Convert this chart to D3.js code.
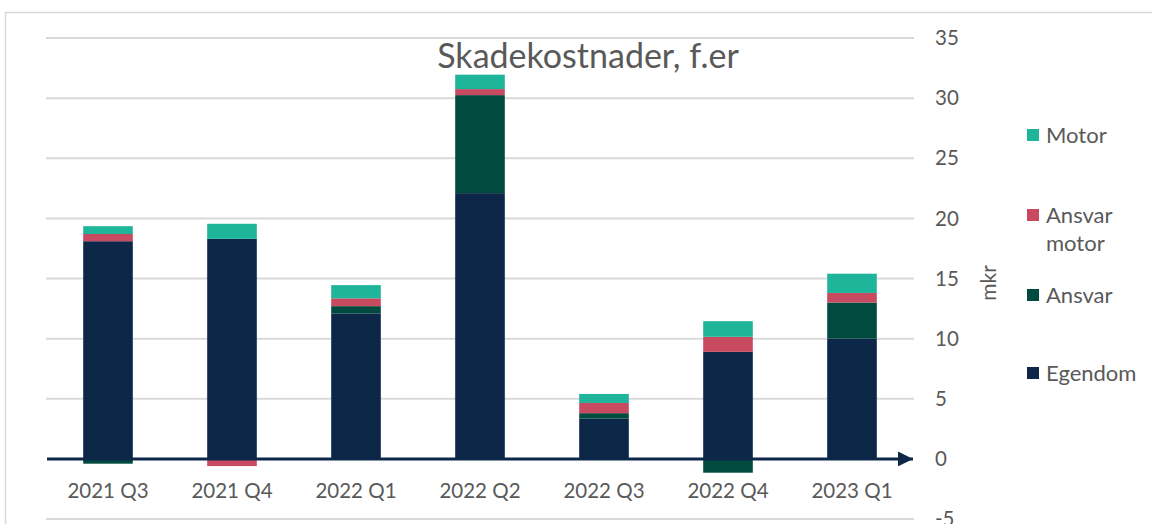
<!DOCTYPE html>
<html>
<head>
<meta charset="utf-8">
<script src="https://cdn.jsdelivr.net/npm/d3@7"></script>
<style>
body { margin: 0; background: #fff; }
text { font-family: Lato, "Open Sans", sans-serif; fill: #595959; }
</style>
</head>
<body>
<svg id="svg1" width="1152" height="524"></svg>
<script>
var quarters = ["2021 Q3","2021 Q4","2022 Q1","2022 Q2","2022 Q3","2022 Q4","2023 Q1"];
var egendom = [18.1, 18.3, 12.1, 22.1, 3.35, 8.9, 10.0];
var ansvar = [-0.4, 0, 0.6, 8.15, 0.45, -1.15, 3.0];
var ansvarMotor = [0.6, -0.6, 0.65, 0.5, 0.85, 1.25, 0.8];
var motor = [0.65, 1.25, 1.1, 1.2, 0.75, 1.3, 1.6];
var yTicks = [-5, 0, 5, 10, 15, 20, 25, 30, 35];
var series = ["Egendom","Ansvar","Ansvar motor","Motor"];
var colors = ["#0c2748","#004a3f","#c84a60","#1fb59a"];

var rows = quarters.map(function(q, i) {
    return {q: q, "Egendom": egendom[i], "Ansvar": ansvar[i], "Ansvar motor": ansvarMotor[i], "Motor": motor[i]};
});

var svg = d3.select('#svg1');
var x = d3.scaleBand().domain(quarters).range([46, 914]).paddingInner(0.6).paddingOuter(0.3);
var y = d3.scaleLinear().domain([-5, 35]).range([519, 38]);
var color = d3.scaleOrdinal().domain(series).range(colors);

// frame
svg.append("path")
    .attr("d", "M5.5,524 V12.5 H1152")
    .style("fill","none").style("stroke","#d9d9d9").style("stroke-width","1.5px");

// grid
svg.append("g").selectAll("line")
    .data(yTicks.filter(function(t){ return t !== 0; }))
    .enter().append("line")
    .attr("x1", 46).attr("x2", 914)
    .attr("y1", function(d){ return y(d); }).attr("y2", function(d){ return y(d); })
    .style("stroke","#d9d9d9").style("stroke-width","2px");

// tick labels
svg.append("g").selectAll("text")
    .data(yTicks)
    .enter().append("text")
    .attr("x", 935).attr("y", function(d){ return y(d); })
    .attr("dy", "0.35em")
    .style("font-size","20.5px")
    .text(function(d){ return d; });

svg.append("text")
    .attr("transform","translate(996,283) rotate(-90)")
    .style("text-anchor","middle").style("font-size","21px")
    .text("mkr");

// bars
var stack = d3.stack().keys(series).offset(d3.stackOffsetDiverging);
svg.append("g").selectAll("g")
    .data(stack(rows))
    .enter().append("g")
    .attr("fill", function(d){ return color(d.key); })
    .selectAll("rect")
    .data(function(d){ return d; })
    .enter().append("rect")
    .attr("x", function(d){ return x(d.data.q); })
    .attr("width", x.bandwidth())
    .attr("y", function(d){ return y(Math.max(d[0], d[1])); })
    .attr("height", function(d){ return Math.abs(y(d[0]) - y(d[1])); });

// zero axis with arrow
svg.append("defs").append("marker")
    .attr("id","arrow").attr("viewBox","0 0 10 10")
    .attr("refX", 10).attr("refY", 5)
    .attr("markerWidth", 5).attr("markerHeight", 5)
    .attr("markerUnits","strokeWidth")
    .attr("orient","auto")
    .append("path").attr("d","M0,0 L10,5 L0,10 z").attr("fill","#0c2748");
svg.append("line")
    .attr("x1", 47).attr("x2", 913)
    .attr("y1", y(0)).attr("y2", y(0))
    .style("stroke","#0c2748").style("stroke-width","3px")
    .attr("marker-end","url(#arrow)");

// category labels
svg.append("g").selectAll("text")
    .data(quarters)
    .enter().append("text")
    .attr("x", function(d){ return x(d) + x.bandwidth() / 2; })
    .attr("y", 498)
    .style("text-anchor","middle").style("font-size","20.5px")
    .text(function(d){ return d; });

// title
svg.append("text")
    .attr("x", 588).attr("y", 68)
    .style("text-anchor","middle").style("font-size","34px")
    .text("Skadekostnader, f.er");

// legend
var legend = [
    {key: "Motor", lines: ["Motor"], y: 135},
    {key: "Ansvar motor", lines: ["Ansvar", "motor"], y: 215},
    {key: "Ansvar", lines: ["Ansvar"], y: 295},
    {key: "Egendom", lines: ["Egendom"], y: 373}
];
var lg = svg.append("g").selectAll("g").data(legend).enter().append("g");
lg.append("rect")
    .attr("x", 1027).attr("y", function(d){ return d.y - 6; })
    .attr("width", 12).attr("height", 12)
    .attr("fill", function(d){ return color(d.key); });
lg.append("text")
    .attr("x", 1046).attr("y", function(d){ return d.y; })
    .style("font-size","22px")
    .selectAll("tspan").data(function(d){ return d.lines; })
    .enter().append("tspan")
    .attr("x", 1046).attr("dy", function(d, i){ return i === 0 ? "0.35em" : "1.3em"; })
    .text(function(d){ return d; });
</script>
</body>
</html>
